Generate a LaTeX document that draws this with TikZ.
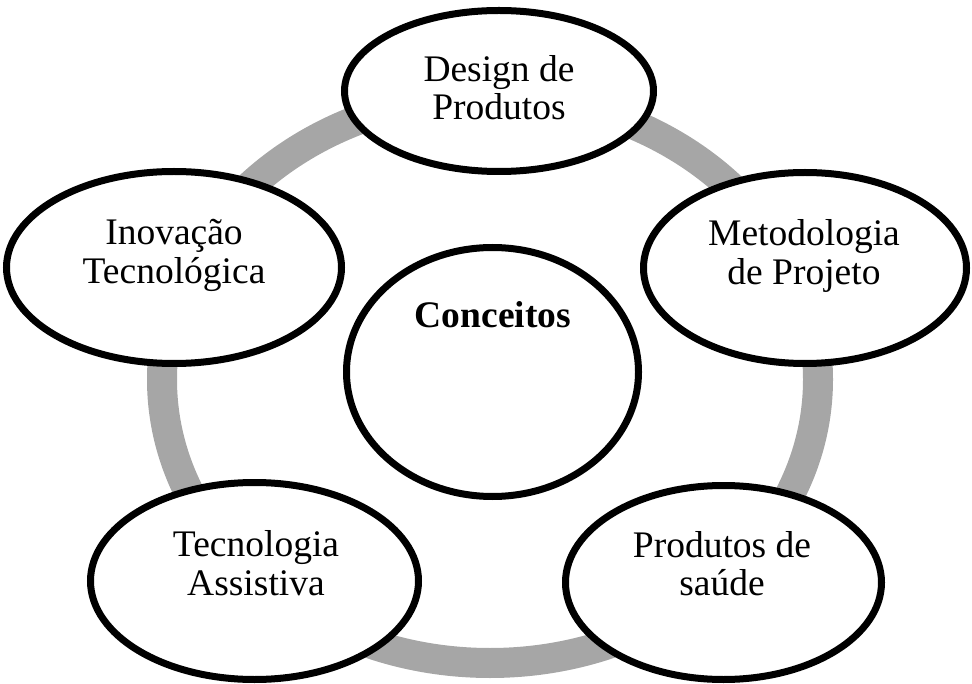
\documentclass[tikz,border=0pt]{standalone}
\usepackage{fontspec}
\setmainfont{Liberation Serif}
\usetikzlibrary{shapes.geometric}
\definecolor{ringgray}{HTML}{A6A6A6}
\tikzset{
  bubble/.style={ellipse, draw=black, line width=7pt, fill=white, inner sep=0pt},
  bubbletext/.style={align=center, inner sep=0pt, font=\fontsize{37.5}{38.5}\selectfont},
  ring/.style={draw=ringgray, line width=30pt}
}
\begin{document}
\begin{tikzpicture}[x=1pt,y=-1pt]
\useasboundingbox (0,0) rectangle (972,684);
% ring
\coordinate (ringc) at (490,379.5);
\draw[ring] (ringc) ellipse [x radius=328, y radius=283.5];
% bubbles
\node[bubble, minimum width=309pt, minimum height=161pt] (design) at (499,91) {};
\node[bubble, minimum width=335pt, minimum height=192pt] (inov) at (174,267.5) {};
\node[bubble, minimum width=323pt, minimum height=191pt] (metod) at (805,268) {};
\node[bubble, minimum width=292pt, minimum height=249pt] (conc) at (492.5,372) {};
\node[bubble, minimum width=328pt, minimum height=197pt] (tecn) at (254.5,581) {};
\node[bubble, minimum width=316pt, minimum height=194pt] (prod) at (723.5,582.5) {};
% texts
\node[bubbletext] (designT) at (499,87.5) {Design de\\Produtos};
\node[bubbletext] (inovT) at (174,255.5) {Inovação\\Tecnológica};
\node[bubbletext] (metodT) at (804,256) {Metodologia\\de Projeto};
\node[bubbletext, font=\fontsize{37.5}{38.5}\selectfont\bfseries] (concT) at (493,315) {Conceitos};
\node[bubbletext] (tecnT) at (256,563) {Tecnologia\\Assistiva};
\node[bubbletext] (prodT) at (722,563.5) {Produtos de\\saúde};
\end{tikzpicture}
\end{document}
